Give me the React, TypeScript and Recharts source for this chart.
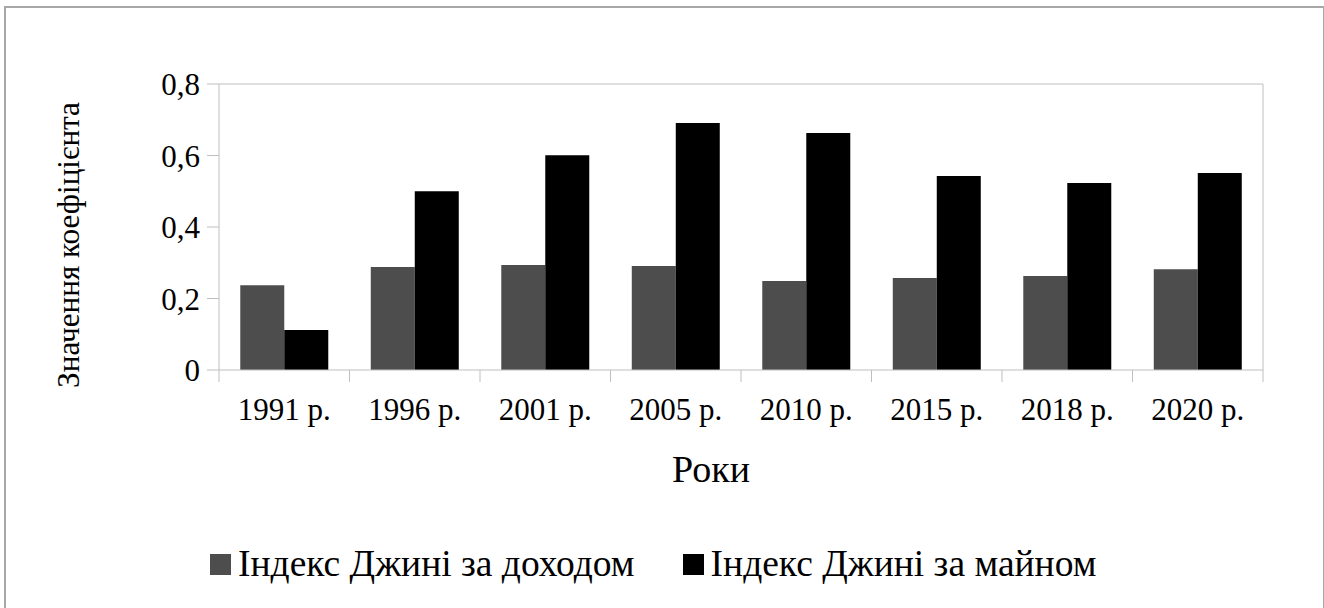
import React from 'react';
import { BarChart, Bar, XAxis, YAxis, CartesianGrid, Legend } from 'recharts';

const years = ['1991 р.', '1996 р.', '2001 р.', '2005 р.', '2010 р.', '2015 р.', '2018 р.', '2020 р.'];
const incomeGini = [0.237, 0.288, 0.294, 0.291, 0.249, 0.257, 0.263, 0.282];
const wealthGini = [0.112, 0.5, 0.601, 0.691, 0.663, 0.543, 0.523, 0.551];
const yTicks = [0, 0.2, 0.4, 0.6, 0.8];

const SERIES = [
  { key: 'income', name: 'Індекс Джині за доходом', color: '#4d4d4d' },
  { key: 'wealth', name: 'Індекс Джині за майном', color: '#000000' },
];

const data = years.map((year, i) => ({ year, income: incomeGini[i], wealth: wealthGini[i] }));

// no serif font with Cyrillic here, Cyrillic falls back to a sans face
const FONT = '"Liberation Serif", "DejaVu Serif", serif';
const AXIS_GREY = '#bfbfbf';

const YearTick = (props: any) => {
  const { x, y, payload, index, visibleTicksCount } = props;
  const half = payload.offset ?? 0;
  return (
    <g>
      <line x1={x - half} x2={x - half} y1={y} y2={y + 12} stroke={AXIS_GREY} />
      {index === visibleTicksCount - 1 && (
        <line x1={x + half} x2={x + half} y1={y} y2={y + 12} stroke={AXIS_GREY} />
      )}
      <text x={x} y={y + 50} textAnchor="middle" fill="#000" fontSize={31} fontFamily={FONT}>
        {payload.value}
      </text>
    </g>
  );
};

const LegendContent = () => (
  <div style={{ display: 'flex', alignItems: 'center', paddingLeft: 210, fontFamily: FONT, fontSize: 37.5 }}>
    {SERIES.map((s, i) => (
      <div key={s.key} style={{ display: 'flex', alignItems: 'center', marginRight: i === 0 ? 48 : 0 }}>
        <span style={{ width: 21, height: 21, background: s.color, marginRight: 7, display: 'inline-block' }} />
        <span style={{ lineHeight: '42px' }}>{s.name}</span>
      </div>
    ))}
  </div>
);

export default function App() {
  return (
    <div style={{ position: 'absolute', left: 0, top: 0, width: 1324, height: 608, background: '#fff', overflow: 'hidden' }}>
      <div style={{ position: 'absolute', left: 4, top: 6, width: 1317, height: 640, border: '2px solid #a8a8a8' }} />
      <div style={{ position: 'absolute', left: 0, top: 0 }}>
        <BarChart
          width={1324}
          height={608}
          data={data}
          margin={{ top: 84, right: 61, left: 0, bottom: 0 }}
          barCategoryGap="16.3%"
          barGap={0}
        >
          <CartesianGrid
            stroke={AXIS_GREY}
            horizontalCoordinatesGenerator={({ offset }: any) => [offset.top]}
            verticalCoordinatesGenerator={({ offset }: any) => [offset.left + offset.width]}
          />
          <XAxis
            dataKey="year"
            height={238}
            axisLine={{ stroke: AXIS_GREY }}
            tickLine={false}
            tickSize={0}
            tickMargin={0}
            interval={0}
            tick={<YearTick />}
            label={() => (
              <text x={711} y={482} textAnchor="middle" fill="#000" fontSize={38} fontFamily={FONT}>
                Роки
              </text>
            )}
          />
          <YAxis
            width={219}
            domain={[0, 0.8]}
            ticks={yTicks}
            interval={0}
            axisLine={{ stroke: AXIS_GREY }}
            tickLine={{ stroke: AXIS_GREY }}
            tickSize={12}
            tickMargin={7}
            tick={{ fill: '#000', fontSize: 31, fontFamily: FONT }}
            tickFormatter={(v: number) => String(v).replace('.', ',')}
            label={() => (
              <text
                x={68}
                y={245}
                transform="rotate(-90, 68, 245)"
                textAnchor="middle"
                dominantBaseline="central"
                fill="#000"
                fontSize={31.2}
                fontFamily={FONT}
              >
                Значення коефіцієнта
              </text>
            )}
          />
          <Legend
            layout="horizontal"
            verticalAlign="middle"
            align="center"
            content={<LegendContent />}
            wrapperStyle={{ top: 543, left: 0, width: 1324 }}
          />
          {SERIES.map((s) => (
            <Bar key={s.key} dataKey={s.key} name={s.name} fill={s.color} isAnimationActive={false} />
          ))}
        </BarChart>
      </div>
    </div>
  );
}
